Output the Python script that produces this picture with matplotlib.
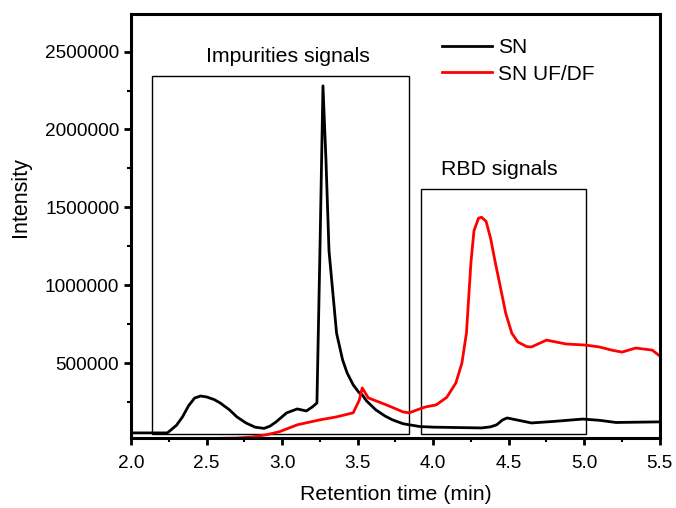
import matplotlib.pyplot as plt
import numpy as np
from matplotlib.patches import Rectangle
from matplotlib.ticker import MultipleLocator

plt.rcParams['font.family'] = ['Liberation Sans', 'DejaVu Sans']
plt.rcParams['font.size'] = 13.7

# SN trace (black)
sn_t = [2.00, 2.24, 2.30, 2.34, 2.38, 2.42, 2.46, 2.50, 2.55, 2.59, 2.65, 2.70, 2.76, 2.82,
        2.88, 2.92, 2.96, 3.03, 3.10, 3.16, 3.20, 3.23, 3.25, 3.27, 3.29, 3.31, 3.36, 3.40,
        3.43, 3.47, 3.51, 3.53, 3.56, 3.62, 3.68, 3.73, 3.80, 3.91, 4.00, 4.32, 4.38, 4.42,
        4.46, 4.49, 4.55, 4.65, 4.80, 4.99, 5.10, 5.21, 5.50]
sn_i = [51e3, 51e3, 100e3, 154e3, 225e3, 275e3, 288e3, 282e3, 265e3, 243e3, 200e3, 154e3, 115e3, 88e3,
        80e3, 95e3, 122e3, 180e3, 205e3, 192e3, 218e3, 243e3, 1.22e6, 2.28e6, 1.80e6, 1.22e6, 692e3, 520e3,
        436e3, 360e3, 308e3, 295e3, 255e3, 199e3, 160e3, 135e3, 110e3, 92e3, 88e3, 83e3, 90e3, 103e3,
        135e3, 147e3, 135e3, 115e3, 125e3, 140e3, 132e3, 118e3, 122e3]

# SN UF/DF trace (red)
uf_t = [2.00, 2.50, 2.70, 2.81, 2.90, 2.98, 3.10, 3.25, 3.36, 3.47, 3.51, 3.53, 3.57, 3.69,
        3.80, 3.84, 3.91, 3.95, 4.02, 4.09, 4.15, 4.19, 4.22, 4.25, 4.27, 4.30, 4.32, 4.35,
        4.38, 4.41, 4.44, 4.48, 4.52, 4.56, 4.62, 4.65, 4.75, 4.88, 5.01, 5.10, 5.18, 5.25,
        5.34, 5.45, 5.50]
uf_i = [15e3, 15e3, 18e3, 26e3, 40e3, 58e3, 103e3, 135e3, 154e3, 180e3, 260e3, 340e3, 276e3, 231e3,
        186e3, 180e3, 205e3, 218e3, 231e3, 280e3, 372e3, 500e3, 692e3, 1.15e6, 1.35e6, 1.43e6, 1.436e6, 1.41e6,
        1.30e6, 1.15e6, 1.01e6, 820e3, 692e3, 635e3, 605e3, 603e3, 647e3, 622e3, 615e3, 603e3, 583e3, 570e3,
        596e3, 583e3, 545e3]

# annotation boxes: (t0, t1, i0, i1)
impurity_box = (2.14, 3.84, 45e3, 2.345e6)
rbd_box = (3.92, 5.01, 45e3, 1.615e6)

fig = plt.figure(figsize=(6.76, 5.08), dpi=100)
ax = fig.add_axes([0.194, 0.138, 0.782, 0.834])

ax.plot(sn_t, sn_i, color='black', lw=2, label='SN')
ax.plot(uf_t, uf_i, color='red', lw=2, label='SN UF/DF')

for t0, t1, i0, i1 in [impurity_box, rbd_box]:
    ax.add_patch(Rectangle((t0, i0), t1 - t0, i1 - i0, fill=False, edgecolor='black', lw=1))

ax.text(3.04, 2.47e6, 'Impurities signals', ha='center', va='center', fontsize=15.3)
ax.text(4.44, 1.74e6, 'RBD signals', ha='center', va='center', fontsize=15.3)

ax.set_xlim(2.0, 5.5)
ax.set_ylim(19e3, 2.74e6)
ax.xaxis.set_minor_locator(MultipleLocator(0.25))
ax.yaxis.set_minor_locator(MultipleLocator(250000))
ax.set_yticks([500000, 1000000, 1500000, 2000000, 2500000])
ax.set_yticklabels(['500000', '1000000', '1500000', '2000000', '2500000'])
ax.set_xticks([2.0, 2.5, 3.0, 3.5, 4.0, 4.5, 5.0, 5.5])
ax.set_xticklabels(['2.0', '2.5', '3.0', '3.5', '4.0', '4.5', '5.0', '5.5'])

for s in ax.spines.values():
    s.set_linewidth(2.2)
ax.tick_params(which='major', direction='out', length=5, width=2)
ax.tick_params(axis='x', which='major', pad=7)
ax.tick_params(which='minor', direction='out', length=3, width=1.5)

ax.set_xlabel('Retention time (min)', fontsize=15.3, labelpad=10)
ax.set_ylabel('Intensity', fontsize=15.5)
ax.yaxis.set_label_coords(-0.19, 0.568)

ax.legend(loc='upper right', frameon=False, fontsize=15, handlelength=2.4,
          handletextpad=0.3, labelspacing=0.35, borderaxespad=0,
          bbox_to_anchor=(0.893, 0.963))

fig.savefig('out.png', dpi=100)
